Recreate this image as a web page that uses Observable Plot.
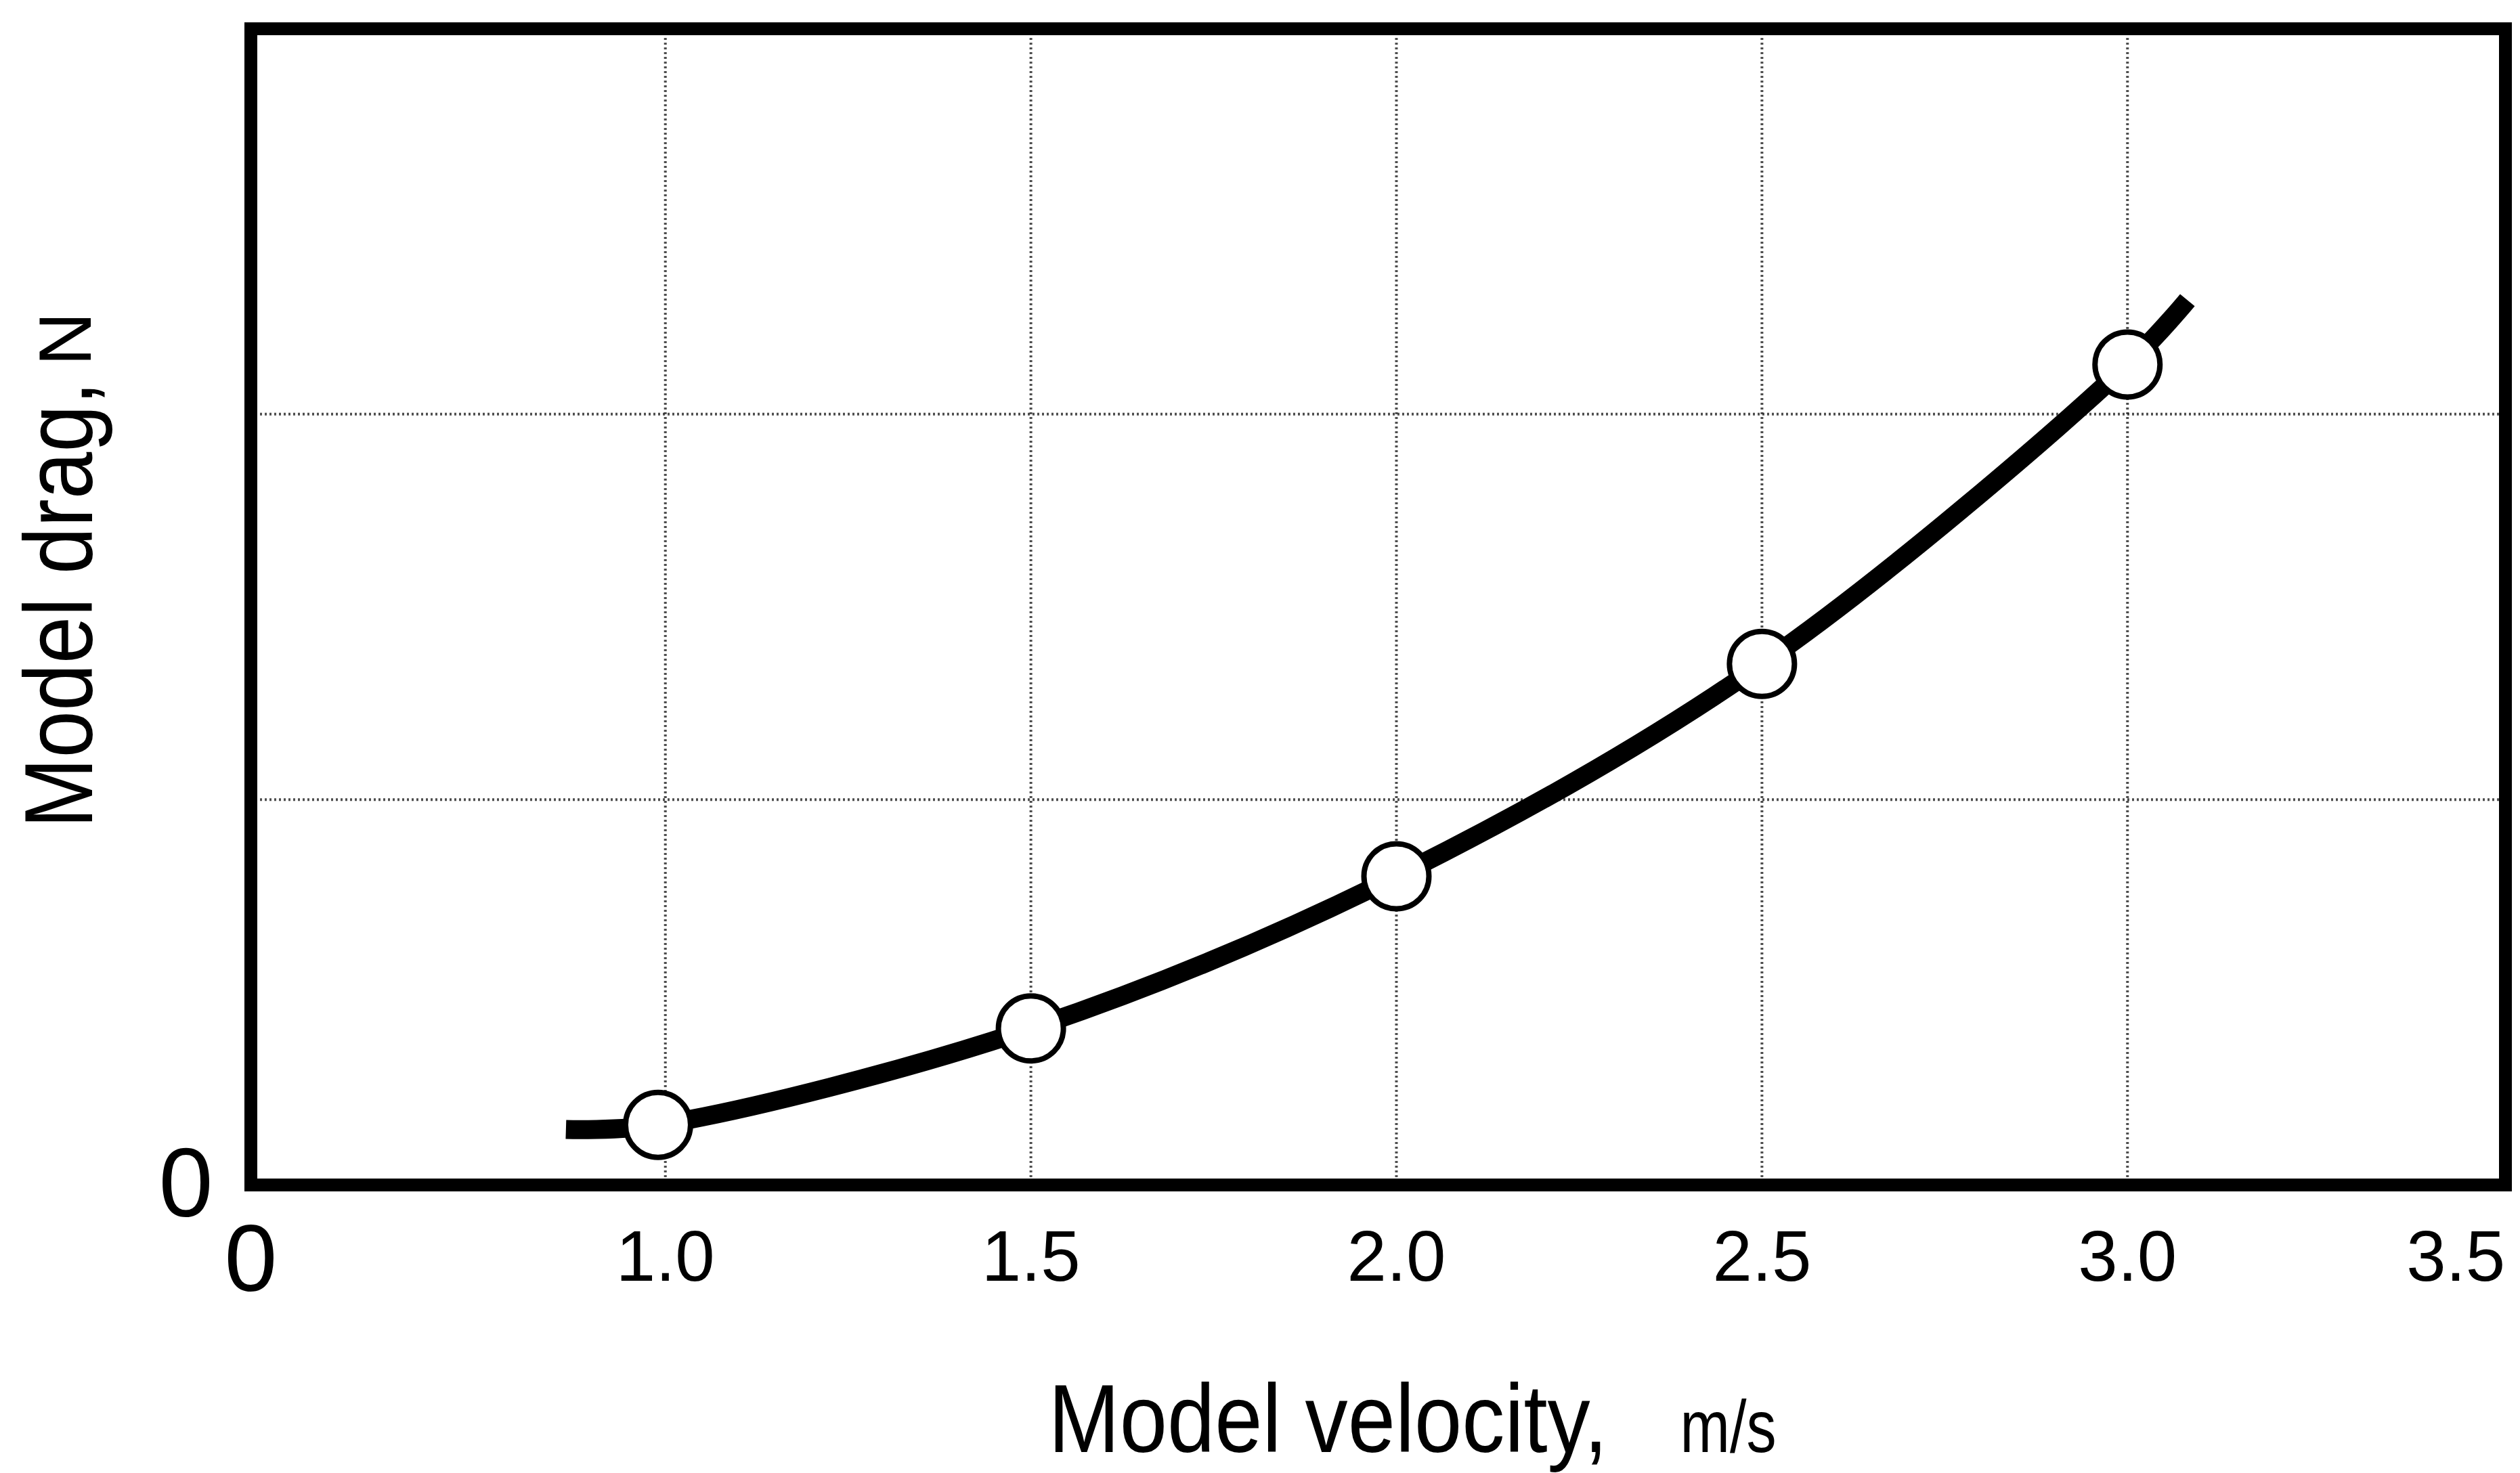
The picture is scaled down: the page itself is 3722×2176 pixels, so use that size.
<!DOCTYPE html>
<html>
<head>
<meta charset="utf-8">
<script src="https://cdn.jsdelivr.net/npm/d3@7"></script>
<script src="https://cdn.jsdelivr.net/npm/@observablehq/plot@0.6"></script>
<style>
  html, body { margin: 0; padding: 0; background: #fff; }
  #chart svg { display: block; }
</style>
</head>
<body>
<div id="chart"></div>
<script>
// ---- data ----
const pointVelocity = [0.99, 1.5, 2.0, 2.5, 3.0];            // m/s
const pointDrag     = [0.156, 0.406, 0.801, 1.352, 2.129];    // drag (grid spacing = 1 unit)
const curveVelocity = [0.864, 0.99, 1.5, 2.0, 2.5, 3.0, 3.082];
const curveDrag     = [0.144, 0.156, 0.406, 0.801, 1.352, 2.129, 2.296];
const xTickValues   = [1.0, 1.5, 2.0, 2.5, 3.0];
const xLastTick     = [3.5];
const xGridValues   = [1.0, 1.5, 2.0, 2.5, 3.0];
const yGridValues   = [1, 2];
const xDomain       = [0.433, 3.517];
const yDomain       = [0, 3];
const originLabel   = "0";
const xTitle        = "Model velocity,";
const xUnit         = "m/s";
const yTitle        = "Model drag,";
const yUnit         = "N";

const points = pointVelocity.map((v, i) => ({v, d: pointDrag[i]}));
const curve  = curveVelocity.map((v, i) => ({v, d: curveDrag[i]}));

const gridStyle = {stroke: "#222", strokeOpacity: 0.8, strokeWidth: 4, strokeDasharray: "3,4"};

const chart = Plot.plot({
  width: 3722,
  height: 2176,
  marginLeft: 370,
  marginRight: 22,
  marginTop: 42,
  marginBottom: 426,
  style: {fontFamily: "'Liberation Sans', Arial, sans-serif", background: "#fff", color: "#000"},
  x: {domain: xDomain},
  y: {domain: yDomain},
  marks: [
    Plot.gridX(xGridValues, gridStyle),
    Plot.gridY(yGridValues, gridStyle),
    Plot.axisX(xTickValues, {tickSize: 0, tickPadding: 67, fontSize: 105, tickFormat: d => d.toFixed(1), label: null}),
    Plot.axisX(xLastTick, {tickSize: 0, tickPadding: 67, fontSize: 105, tickFormat: d => d.toFixed(1), textAnchor: "end", dx: 18, label: null}),
    Plot.axisX([xDomain[0]], {tickSize: 0, tickPadding: 57, fontSize: 140, tickFormat: () => originLabel, label: null}),
    Plot.axisY([yDomain[0]], {tickSize: 0, tickPadding: 56, fontSize: 144, tickFormat: () => originLabel, label: null}),
    Plot.line(curve, {x: "v", y: "d", curve: "catmull-rom", stroke: "#000", strokeWidth: 28, strokeLinecap: "butt", strokeLinejoin: "round"}),
    Plot.dot(points, {x: "v", y: "d", r: 48, fill: "#fff", stroke: "#000", strokeWidth: 8}),
    Plot.frame({stroke: "#000", strokeWidth: 19}),
    Plot.text([xTitle], {frameAnchor: "bottom", text: d => d, textAnchor: "start", lineAnchor: "middle", dx: -487, dy: 349, fontSize: 142, fill: "#000"}),
    Plot.text([xUnit], {frameAnchor: "bottom", text: d => d, textAnchor: "start", lineAnchor: "middle", dx: 446, dy: 359, fontSize: 110, fill: "#000"}),
    Plot.text([yTitle], {frameAnchor: "left", text: d => d, rotate: -90, textAnchor: "start", lineAnchor: "middle", dx: -280, dy: 327, fontSize: 142, fill: "#000"}),
    Plot.text([yUnit], {frameAnchor: "left", text: d => d, rotate: -90, textAnchor: "start", lineAnchor: "middle", dx: -272, dy: -356, fontSize: 110, fill: "#000"})
  ]
});

// condense the axis titles to the narrow face seen in the picture
chart.querySelectorAll("text").forEach(t => {
  const s = t.textContent;
  if (s === xTitle) { t.setAttribute("textLength", 826); t.setAttribute("lengthAdjust", "spacingAndGlyphs"); }
  if (s === yTitle) { t.setAttribute("textLength", 660); t.setAttribute("lengthAdjust", "spacingAndGlyphs"); }
  if (s === xUnit)  { t.setAttribute("textLength", 142); t.setAttribute("lengthAdjust", "spacingAndGlyphs"); }
});

document.getElementById("chart").appendChild(chart);
</script>
</body>
</html>
